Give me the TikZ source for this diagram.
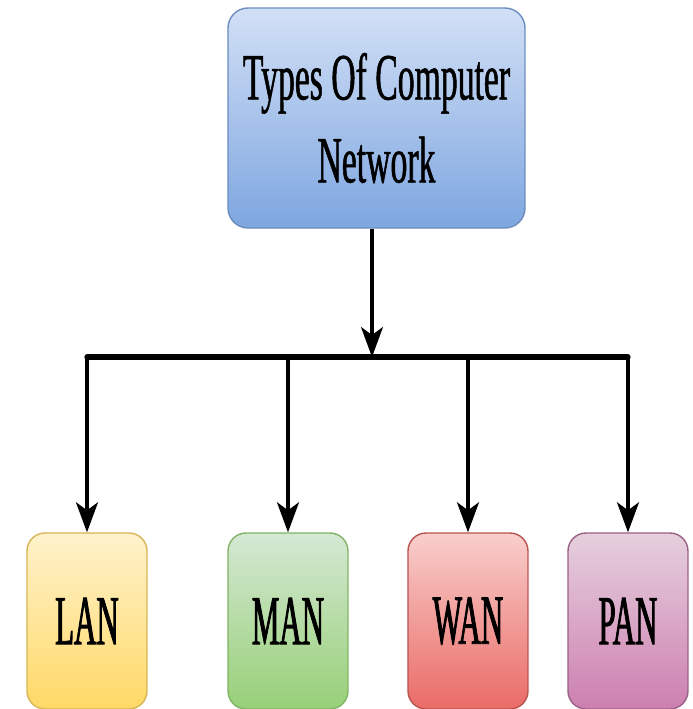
\documentclass[tikz,border=0pt]{standalone}
\usepackage{fontspec}
\setmainfont{Liberation Serif}
\newfontfamily\narrowserif[FakeStretch=0.51, FakeBold=0.8]{Liberation Serif}
\newfontfamily\tightserif[FakeStretch=0.44, FakeBold=1.2]{Liberation Serif}
\usetikzlibrary{arrows.meta,positioning}
\definecolor{rootT}{HTML}{D2E0F6}
\definecolor{rootB}{HTML}{7EA6E0}
\definecolor{rootD}{HTML}{6C8EBF}
\definecolor{lanT}{HTML}{FFF2CC}
\definecolor{lanB}{HTML}{FFD966}
\definecolor{lanD}{HTML}{D6B656}
\definecolor{manT}{HTML}{D5E8D4}
\definecolor{manB}{HTML}{97D077}
\definecolor{manD}{HTML}{82B366}
\definecolor{wanT}{HTML}{F8CECC}
\definecolor{wanB}{HTML}{EA6B66}
\definecolor{wanD}{HTML}{B85450}
\definecolor{panT}{HTML}{E6D0DE}
\definecolor{panB}{HTML}{CD7FB0}
\definecolor{panD}{HTML}{996185}
\tikzset{
  rootbox/.style={rectangle, rounded corners=0.2cm, inner sep=0pt,
                  minimum width=2.97cm, minimum height=2.2cm, align=center,
                  draw=rootD, top color=rootT, bottom color=rootB,
                  font=\narrowserif\fontsize{18.8}{23.6}\selectfont},
  typebox/.style={rectangle, rounded corners=0.18cm, inner sep=0pt,
                  minimum width=1.2cm, minimum height=1.76cm,
                  font=\tightserif\fontsize{20}{24}\selectfont},
  feed/.style={line width=0.9pt, -{Stealth[length=0.3cm, width=0.22cm, inset=0.08cm]}},
  busline/.style={line width=1.5pt, line cap=round, line join=round},
}
\begin{document}
\begin{tikzpicture}
  \useasboundingbox (0,0) rectangle (6.93,-7.09);
  % root box
  \node[rootbox] (root) at (3.765,-1.18) {Types Of Computer\\Network};
  % network types
  \node[typebox, draw=lanD, top color=lanT, bottom color=lanB] (lan) at (0.87,-6.21) {LAN};
  \node[typebox, draw=manD, top color=manT, bottom color=manB] (man) at (2.88,-6.21) {MAN};
  \node[typebox, draw=wanD, top color=wanT, bottom color=wanB] (wan) at (4.68,-6.21) {WAN};
  \node[typebox, draw=panD, top color=panT, bottom color=panB] (pan) at (6.28,-6.21) {PAN};
  % bus
  \coordinate (bus) at (3.72,-3.57);
  \draw[busline] (lan |- bus) -- (pan |- bus);
  \draw[feed] (bus |- root.south) -- (bus);
  \foreach \t in {lan,man,wan,pan}
    \draw[feed] (\t |- bus) -- (\t.north);
\end{tikzpicture}
\end{document}
